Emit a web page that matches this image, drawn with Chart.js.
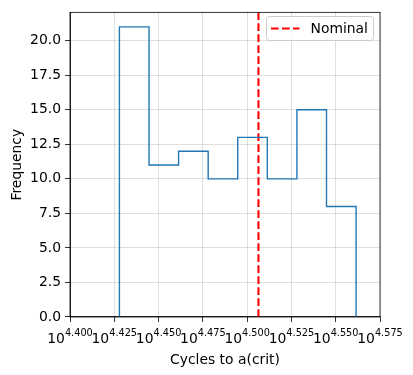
<!DOCTYPE html>
<html>
<head>
<meta charset="utf-8">
<script src="https://cdn.jsdelivr.net/npm/chart.js@4/dist/chart.umd.min.js"></script>
<style>
  body { margin: 0; background: #fff; }
  canvas { display: block; }
</style>
</head>
<body>
<canvas id="histChart" width="413" height="375"></canvas>
<script>
// histogram bins (log10 of cycles) and counts
const binEdges = [4.4279, 4.4446, 4.4613, 4.4780, 4.4947, 4.5114, 4.5281, 4.5448, 4.5615];
const binCounts = [21, 11, 12, 10, 13, 10, 15, 8];
const nominalLog = 4.5064;
const xTicks = [4.400, 4.425, 4.450, 4.475, 4.500, 4.525, 4.550, 4.575];
const yTicks = [0, 2.5, 5, 7.5, 10, 12.5, 15, 17.5, 20];
const xRange = [4.400, 4.575];
const yRange = [0, 22.05];

const FONT = 'DejaVu Sans';
const FS = 13.9;

// step outline: start at zero, one point per bin edge, back to zero
function stepPoints() {
    const pts = [{ x: binEdges[0], y: 0 }];
    binCounts.forEach((c, i) => pts.push({ x: binEdges[i], y: c }));
    pts.push({ x: binEdges[binEdges.length - 1], y: 0 });
    return pts;
}

// mathtext-like tick labels, top/right spines and legend box
const decorPlugin = {
    id: 'decor',
    afterDraw(chart) {
        const ctx = chart.ctx;
        const area = chart.chartArea;
        const xs = chart.scales.x;

        ctx.save();
        // spines
        ctx.strokeStyle = '#000';
        ctx.lineWidth = 0.8;
        ctx.strokeRect(area.left, area.top, area.right - area.left, area.bottom - area.top);

        // x tick labels as 10^exp
        ctx.fillStyle = '#000';
        ctx.textBaseline = 'alphabetic';
        ctx.textAlign = 'left';
        xTicks.forEach(v => {
            const px = xs.getPixelForValue(v);
            const exp = v.toFixed(3);
            ctx.font = FS + 'px "' + FONT + '"';
            const wBase = ctx.measureText('10').width;
            ctx.font = (FS * 0.7) + 'px "' + FONT + '"';
            const wExp = ctx.measureText(exp).width;
            const x0 = px - (wBase + wExp) / 2;
            ctx.font = FS + 'px "' + FONT + '"';
            ctx.fillText('10', x0, 343);
            ctx.font = (FS * 0.7) + 'px "' + FONT + '"';
            ctx.fillText(exp, x0 + wBase, 336);
        });

        // legend
        const ds = chart.data.datasets[1];
        const bx = 266.5, by = 16.5, bw = 107, bh = 24;
        ctx.beginPath();
        ctx.roundRect(bx, by, bw, bh, 3);
        ctx.fillStyle = 'rgba(255,255,255,0.8)';
        ctx.fill();
        ctx.strokeStyle = '#cccccc';
        ctx.lineWidth = 1;
        ctx.stroke();

        ctx.beginPath();
        ctx.setLineDash(ds.borderDash);
        ctx.strokeStyle = ds.borderColor;
        ctx.lineWidth = ds.borderWidth;
        ctx.moveTo(271, 28.5);
        ctx.lineTo(299.5, 28.5);
        ctx.stroke();
        ctx.setLineDash([]);

        ctx.fillStyle = '#000';
        ctx.font = FS + 'px "' + FONT + '"';
        ctx.textBaseline = 'middle';
        ctx.fillText(ds.label, 310.5, 29);
        ctx.restore();
    }
};

new Chart(document.getElementById('histChart'), {
    type: 'line',
    data: {
        datasets: [
            {
                label: 'Cycles',
                data: stepPoints(),
                stepped: 'before',
                borderColor: '#1f77b4',
                borderWidth: 1.39,
                pointRadius: 0,
                fill: false
            },
            {
                label: 'Nominal',
                data: [{ x: nominalLog, y: yRange[0] }, { x: nominalLog, y: yRange[1] }],
                borderColor: '#ff0000',
                borderWidth: 2.08,
                borderDash: [7.7, 3.3],
                pointRadius: 0,
                fill: false
            }
        ]
    },
    options: {
        responsive: false,
        animation: false,
        events: [],
        layout: { padding: { top: 9, right: 33, bottom: 0, left: 0 } },
        plugins: {
            legend: { display: false },
            tooltip: { enabled: false }
        },
        scales: {
            x: {
                type: 'linear',
                min: xRange[0],
                max: xRange[1],
                afterBuildTicks: s => { s.ticks = xTicks.map(v => ({ value: v })); },
                afterFit: s => { s.height = 58; },
                ticks: {
                    callback: () => '',
                    font: { family: FONT, size: FS }
                },
                grid: {
                    color: 'rgba(176,176,176,0.5)',
                    lineWidth: 0.8,
                    tickColor: '#000',
                    tickLength: 5,
                    tickWidth: 0.8
                },
                border: { color: '#000', width: 0.8 },
                title: {
                    display: true,
                    text: 'Cycles to a(crit)',
                    color: '#000',
                    font: { family: FONT, size: FS },
                    padding: { top: 0, bottom: 6.5 }
                }
            },
            y: {
                type: 'linear',
                min: yRange[0],
                max: yRange[1],
                afterBuildTicks: s => { s.ticks = yTicks.map(v => ({ value: v })); },
                afterFit: s => { s.width = 70; },
                ticks: {
                    callback: v => v.toFixed(1),
                    color: '#000',
                    padding: 4,
                    font: { family: FONT, size: FS }
                },
                grid: {
                    color: 'rgba(176,176,176,0.5)',
                    lineWidth: 0.8,
                    tickColor: '#000',
                    tickLength: 5,
                    tickWidth: 0.8
                },
                border: { color: '#000', width: 0.8 },
                title: {
                    display: true,
                    text: 'Frequency',
                    color: '#000',
                    font: { family: FONT, size: FS },
                    padding: { top: 9, bottom: 0 }
                }
            }
        }
    },
    plugins: [decorPlugin]
});
</script>
</body>
</html>
